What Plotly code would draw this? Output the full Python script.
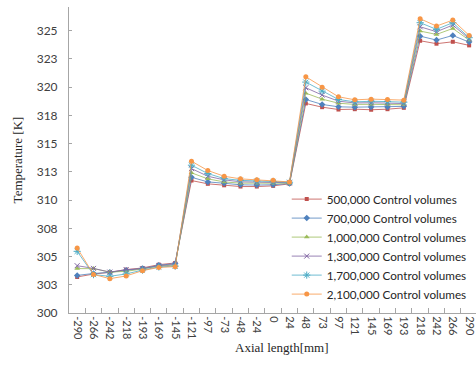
import plotly.graph_objects as go

categories = ["-290", "-266", "-242", "-218", "-193", "-169", "-145", "-121", "-97", "-73",
              "-48", "-24", "0", "24", "48", "73", "97", "121", "145", "169", "193",
              "218", "242", "266", "290"]

series_names = ["500,000 Control volumes", "700,000 Control volumes", "1,000,000 Control volumes",
                "1,300,000 Control volumes", "1,700,000 Control volumes", "2,100,000 Control volumes"]

cv_500k = [303.19, 303.45, 303.60, 303.84, 303.99, 304.28, 304.43,
           311.73, 311.44, 311.31, 311.20, 311.20, 311.26, 311.44,
           318.56, 318.23, 318.02, 318.05, 318.00, 318.05, 318.17,
           324.11, 323.85, 324.02, 323.70]
cv_700k = [303.33, 303.50, 303.60, 303.78, 303.95, 304.22, 304.38,
           312.02, 311.61, 311.49, 311.35, 311.33, 311.36, 311.47,
           318.91, 318.47, 318.26, 318.23, 318.25, 318.25, 318.30,
           324.52, 324.17, 324.58, 323.99]
cv_1000k = [303.93, 303.93, 303.62, 303.69, 303.90, 304.15, 304.25,
            312.41, 311.88, 311.61, 311.50, 311.48, 311.46, 311.50,
            319.47, 318.94, 318.58, 318.47, 318.48, 318.48, 318.44,
            324.97, 324.67, 325.20, 324.17]
cv_1300k = [304.19, 303.95, 303.62, 303.84, 303.92, 304.20, 304.30,
            312.79, 312.11, 311.79, 311.62, 311.58, 311.55, 311.54,
            319.95, 319.30, 318.76, 318.60, 318.62, 318.60, 318.55,
            325.35, 324.91, 325.50, 324.28]
cv_1700k = [305.46, 303.40, 303.25, 303.46, 303.80, 304.08, 304.15,
            313.09, 312.35, 311.90, 311.75, 311.68, 311.65, 311.58,
            320.45, 319.65, 318.91, 318.70, 318.75, 318.72, 318.67,
            325.71, 325.12, 325.71, 324.38]
cv_2100k = [305.76, 303.42, 303.04, 303.28, 303.75, 304.04, 304.10,
            313.44, 312.62, 312.11, 311.88, 311.79, 311.75, 311.61,
            320.92, 320.00, 319.15, 318.88, 318.94, 318.90, 318.85,
            326.06, 325.41, 325.94, 324.58]

y_tick_vals = [300, 302.5, 305, 307.5, 310, 312.5, 315, 317.5, 320, 322.5, 325]
y_tick_text = ["300", "303", "305", "308", "310", "313", "315", "318", "320", "323", "325"]

all_series = [cv_500k, cv_700k, cv_1000k, cv_1300k, cv_1700k, cv_2100k]
colors = ["#C0504D", "#4F81BD", "#9BBB59", "#8064A2", "#4BACC6", "#F79646"]
symbols = ["square", "diamond", "triangle-up", "x-thin-open", "asterisk-open", "circle"]
sizes = [4, 5, 5, 5, 6, 5]

fig = go.Figure()
for name, vals, c, s, sz in zip(series_names, all_series, colors, symbols, sizes):
    marker = dict(color=c, symbol=s, size=sz)
    if s.endswith("open"):
        marker["line"] = dict(color=c, width=1)
    fig.add_trace(go.Scatter(x=categories, y=vals, name=name, mode="lines+markers",
                             line=dict(color=c, width=0.8), marker=marker))

fig.update_layout(
    width=476, height=365,
    margin=dict(l=69, r=0, t=7, b=52, autoexpand=False),
    paper_bgcolor="white", plot_bgcolor="white",
    font=dict(family="Lato", size=12, color="#404040"),
    showlegend=True,
    legend=dict(x=0.535, y=0.217, xanchor="left", yanchor="middle",
                bgcolor="rgba(0,0,0,0)", font=dict(family="Lato", size=11.7, color="#262626"),
                itemwidth=30, tracegroupgap=0),
    xaxis=dict(type="category", categoryorder="array", categoryarray=categories,
               range=[-0.5, 24.42], showgrid=False, showline=True, linecolor="#A6A6A6",
               linewidth=1, ticks="inside", tickson="boundaries", ticklen=5,
               tickcolor="#A6A6A6", tickangle=90, tickfont=dict(size=11, color="#404040"),
               zeroline=False, automargin=False),
    yaxis=dict(range=[300, 327.1], tickvals=y_tick_vals, ticktext=y_tick_text,
               showgrid=False, showline=True, linecolor="#A6A6A6", linewidth=1,
               ticks="inside", ticklen=3, tickcolor="#A6A6A6",
               tickfont=dict(size=12, color="#404040"), ticklabelstandoff=8,
               zeroline=False, automargin=False,
               title=dict(text="Temperature [K]", font=dict(family="Liberation Serif", size=13, color="#262626"),
                          standoff=11)),
)

fig.add_annotation(text="Axial length[mm]", xref="paper", yref="paper",
                   x=0.523, y=-0.114, xanchor="center", yanchor="middle", showarrow=False,
                   font=dict(family="Liberation Serif", size=13, color="#262626"))

fig.write_html("out.html", config={"displayModeBar": False},
               post_script="document.body.style.margin='0';document.body.style.overflow='hidden';")
